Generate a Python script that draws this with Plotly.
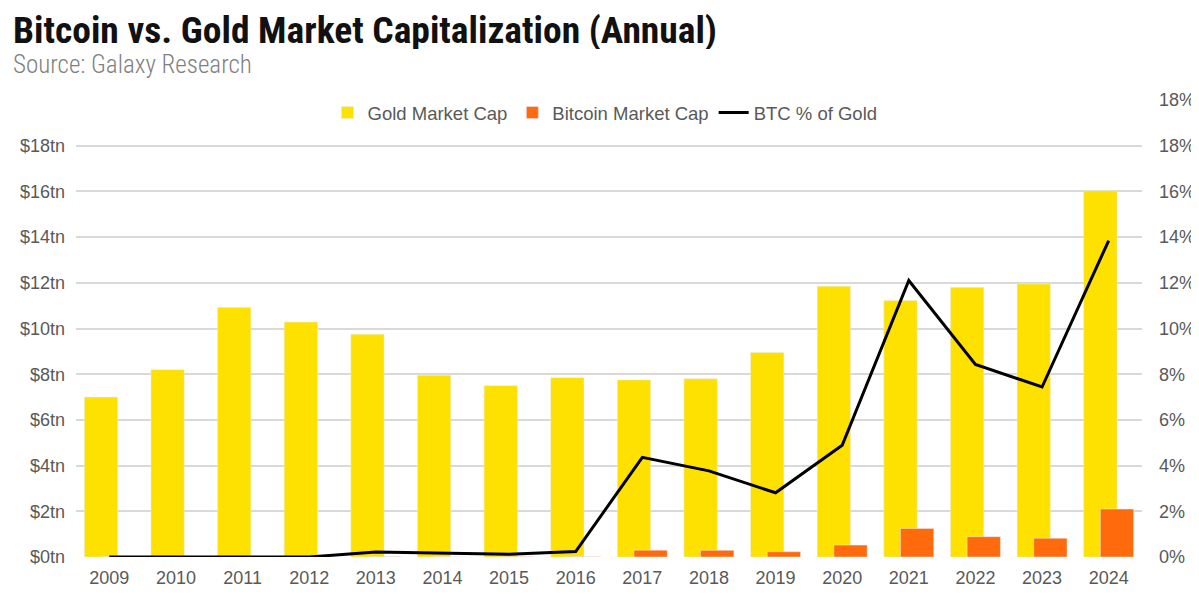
import plotly.graph_objects as go

years = [str(y) for y in range(2009, 2025)]
gold_tn = [7.0, 8.2, 10.92, 10.28, 9.75, 7.95, 7.5, 7.85, 7.75, 7.8, 8.95, 11.85, 11.22, 11.8, 11.95, 16.03]
btc_tn = [0.0, 0.0003, 0.003, 0.001, 0.011, 0.004, 0.006, 0.015, 0.3, 0.29, 0.23, 0.52, 1.25, 0.89, 0.82, 2.1]
btc_pct_gold = [0.0, 0.0, 0.0, 0.0, 0.0022, 0.0017, 0.0012, 0.0024, 0.0436, 0.0377, 0.0281, 0.0489, 0.121, 0.0843, 0.0744, 0.1385]

left_ticks = list(range(0, 20, 2))
left_labels = [f"${v}tn" for v in left_ticks]
right_ticks = [i / 100 for i in range(0, 22, 2)]
right_labels = [f"{i}%" for i in range(0, 20, 2)] + ["18%"]

GOLD = "#FFE100"
ORANGE = "#FF6A0D"
TICK_FONT = dict(family="Liberation Sans, Arial, sans-serif", size=18, color="#595959")

# page offset (body margin) compensation
OFF = 8
W, H = 1199, 599
ML, MR, MT, MB = 73 - OFF, W - 1143 + OFF, 100 - OFF, H - 557 + OFF
PW, PH = W - ML - MR, H - MT - MB


def py(screen_y):
    return (H - MB - (screen_y - OFF)) / PH


def px(screen_x):
    return (screen_x - OFF - ML) / PW


fig = go.Figure()
fig.add_trace(go.Bar(x=years, y=gold_tn, name="Gold Market Cap", marker_color=GOLD,
                     width=0.5, offset=-0.375, yaxis="y"))
fig.add_trace(go.Bar(x=years, y=btc_tn, name="Bitcoin Market Cap", marker_color=ORANGE,
                     width=0.5, offset=-0.125, yaxis="y"))
fig.add_trace(go.Scatter(x=years, y=btc_pct_gold, name="BTC % of Gold", mode="lines",
                         line=dict(color="black", width=3), yaxis="y2"))

fig.update_layout(
    width=W, height=H,
    margin=dict(l=ML, r=MR, t=MT, b=MB),
    paper_bgcolor="white", plot_bgcolor="white",
    barmode="overlay",
    showlegend=True,
    legend=dict(orientation="h", x=px(604), xanchor="center", y=py(113), yanchor="middle",
                font=dict(family="Liberation Sans, Arial, sans-serif", size=18.5, color="#595959"),
                bgcolor="rgba(0,0,0,0)", itemwidth=30, traceorder="normal"),
    xaxis=dict(type="category", showgrid=False, showline=False, ticks="",
               tickfont=TICK_FONT, ticklabelstandoff=8),
    yaxis=dict(range=[0, 20], tickvals=left_ticks, ticktext=left_labels, showgrid=True,
               gridcolor="#D9D9D9", gridwidth=1.5, zeroline=False, showline=False,
               tickfont=TICK_FONT, ticklabelstandoff=10),
    yaxis2=dict(range=[0, 0.2], overlaying="y", side="right", tickvals=right_ticks,
                ticktext=right_labels, showgrid=False, zeroline=False, showline=False,
                tickfont=TICK_FONT, ticklabelstandoff=16),
    font=dict(family="Liberation Sans, Arial, sans-serif"),
)

fig.add_annotation(text="<b>Bitcoin vs. Gold Market Capitalization (Annual)</b>",
                   xref="paper", yref="paper", x=px(8), y=py(30),
                   xanchor="left", yanchor="middle", showarrow=False, height=38,
                   font=dict(family="Roboto Condensed, Liberation Sans Narrow, Roboto, sans-serif",
                             size=37.5, color="#111111"))
fig.add_annotation(text="Source: Galaxy Research",
                   xref="paper", yref="paper", x=px(8), y=py(64),
                   xanchor="left", yanchor="middle", showarrow=False,
                   font=dict(family="Roboto Condensed, Liberation Sans Narrow, Roboto, sans-serif",
                             size=25, color="#808080", weight=300))

fig.write_html("out.html")
